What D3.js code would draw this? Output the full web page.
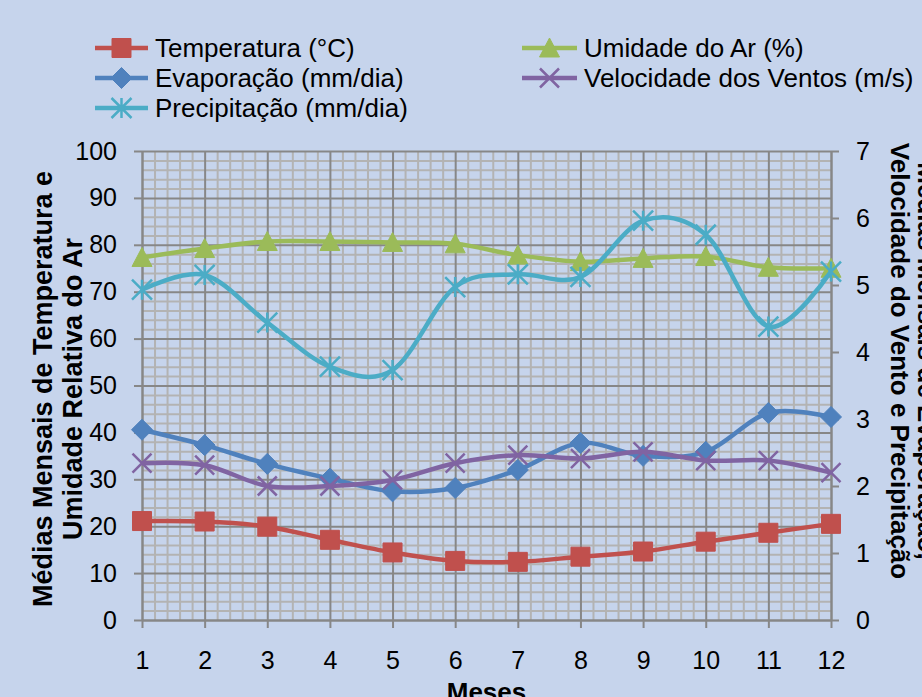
<!DOCTYPE html>
<html>
<head>
<meta charset="utf-8">
<script src="https://cdn.jsdelivr.net/npm/d3@7"></script>
<style>
  html, body { margin: 0; padding: 0; background: #c6d4ec; }
  svg { display: block; font-family: "Liberation Sans", Arial, Helvetica, sans-serif; }
</style>
</head>
<body>
<svg id="chart" width="922" height="697"></svg>
<script>
// Monthly climate normals
const meses = [1, 2, 3, 4, 5, 6, 7, 8, 9, 10, 11, 12];
const temperatura = [21.1, 21.0, 19.9, 17.1, 14.4, 12.6, 12.4, 13.5, 14.6, 16.7, 18.6, 20.5];   // °C (left axis)
const umidade     = [77.3, 79.2, 80.7, 80.7, 80.5, 80.2, 77.8, 76.4, 77.1, 77.5, 75.2, 75.0];   // % (left axis)
const evaporacao  = [2.84, 2.61, 2.33, 2.11, 1.92, 1.97, 2.24, 2.64, 2.45, 2.51, 3.09, 3.03];   // mm/dia (right axis)
const vento       = [2.34, 2.31, 2.00, 2.00, 2.09, 2.34, 2.46, 2.41, 2.51, 2.38, 2.38, 2.20];   // m/s (right axis)
const precipitacao= [4.93, 5.15, 4.44, 3.78, 3.73, 4.97, 5.16, 5.12, 5.96, 5.75, 4.38, 5.20];   // mm/dia (right axis)

const ticksEsquerda = [0, 10, 20, 30, 40, 50, 60, 70, 80, 90, 100];
const ticksDireita  = [0, 1, 2, 3, 4, 5, 6, 7];
const rotulosMeses  = ["1", "2", "3", "4", "5", "6", "7", "8", "9", "10", "11", "12"];

const nomesSeries = ["Temperatura (°C)", "Umidade do Ar (%)", "Evaporação (mm/dia)",
                     "Velocidade dos Ventos (m/s)", "Precipitação (mm/dia)"];

const svg = d3.select("#chart");
const W = 922, H = 697;
const plotLeft = 142, plotRight = 831, plotTop = 151, plotBottom = 620;

svg.append("rect").attr("width", W).attr("height", H).attr("fill", "#c6d4ec");

const x  = d3.scaleLinear().domain([1, 12]).range([plotLeft, plotRight]);
const yL = d3.scaleLinear().domain([0, 100]).range([plotBottom, plotTop]);
const yR = d3.scaleLinear().domain([0, 7]).range([plotBottom, plotTop]);

// ---- grid: minor then major ----
const grid = svg.append("g");
const minorX = d3.range(1, 12.0001, 0.2).filter(v => Math.abs(v - Math.round(v)) > 0.01);
const minorY = d3.range(0, 100.001, 2).filter(v => v % 10 !== 0);

grid.append("g")
  .attr("transform", `translate(0,${plotBottom})`)
  .call(d3.axisBottom(x).tickValues(minorX).tickSize(-(plotBottom - plotTop)).tickFormat(""))
  .call(g => g.select(".domain").remove())
  .call(g => g.selectAll("line").attr("stroke", "#b3b3b3").attr("stroke-width", 2));
grid.append("g")
  .attr("transform", `translate(${plotLeft},0)`)
  .call(d3.axisLeft(yL).tickValues(minorY).tickSize(-(plotRight - plotLeft)).tickFormat(""))
  .call(g => g.select(".domain").remove())
  .call(g => g.selectAll("line").attr("stroke", "#b3b3b3").attr("stroke-width", 2));
grid.append("g")
  .attr("transform", `translate(0,${plotBottom})`)
  .call(d3.axisBottom(x).tickValues(meses).tickSize(-(plotBottom - plotTop)).tickFormat(""))
  .call(g => g.select(".domain").remove())
  .call(g => g.selectAll("line").attr("stroke", "#878787").attr("stroke-width", 2));
grid.append("g")
  .attr("transform", `translate(${plotLeft},0)`)
  .call(d3.axisLeft(yL).tickValues(ticksEsquerda).tickSize(-(plotRight - plotLeft)).tickFormat(""))
  .call(g => g.select(".domain").remove())
  .call(g => g.selectAll("line").attr("stroke", "#878787").attr("stroke-width", 2));

// ---- axes ----
function styleAxis(g) {
  g.select(".domain").attr("stroke", "#878787").attr("stroke-width", 2);
  g.selectAll(".tick line").attr("stroke", "#878787").attr("stroke-width", 2);
  g.selectAll(".tick text").attr("fill", "#000").attr("font-size", 25)
    .attr("font-family", '"Liberation Sans", Arial, sans-serif');
}
svg.append("g")
  .attr("transform", `translate(${plotLeft},0)`)
  .call(d3.axisLeft(yL).tickValues(ticksEsquerda).tickFormat(d3.format("d"))
        .tickSize(8).tickSizeOuter(0).tickPadding(17))
  .call(styleAxis);
svg.append("g")
  .attr("transform", `translate(${plotRight},0)`)
  .call(d3.axisRight(yR).tickValues(ticksDireita).tickFormat(d3.format("d"))
        .tickSize(8).tickSizeOuter(0).tickPadding(17))
  .call(styleAxis);
svg.append("g")
  .attr("transform", `translate(0,${plotBottom})`)
  .call(d3.axisBottom(x).tickValues(meses).tickFormat((d, i) => rotulosMeses[i])
        .tickSize(8).tickSizeOuter(0).tickPadding(23))
  .call(styleAxis);

// ---- axis titles ----
const titulos = svg.append("g").attr("font-weight", "bold").attr("fill", "#000");
const tituloEsq = titulos.append("text")
  .attr("transform", `translate(52,389) rotate(-90)`)
  .attr("text-anchor", "middle").attr("font-size", 27);
tituloEsq.append("tspan").attr("x", 0).attr("y", 0).text("Médias Mensais de Temperatura e");
tituloEsq.append("tspan").attr("x", 0).attr("y", 30).text("Umidade Relativa do Ar");

const tituloDir = titulos.append("text")
  .attr("transform", `translate(891,361) rotate(90)`)
  .attr("text-anchor", "middle").attr("font-size", 26);
tituloDir.append("tspan").attr("x", 0).attr("y", -27).text("Médias Mensais de Evaporação,");
tituloDir.append("tspan").attr("x", 0).attr("y", 0).text("Velocidade do Vento e Precipitação");

titulos.append("text")
  .attr("x", (plotLeft + plotRight) / 2).attr("y", 701)
  .attr("text-anchor", "middle").attr("font-size", 26)
  .text("Meses");

// ---- markers ----
function markerPath(tipo, s) {
  const h = s / 2;
  switch (tipo) {
    case "square":   return `M${-h},${-h}H${h}V${h}H${-h}Z`;
    case "diamond":  return `M0,${-h}L${h},0L0,${h}L${-h},0Z`;
    case "triangle": return `M0,${-h}L${h},${h * 0.9}L${-h},${h * 0.9}Z`;
    case "x":        return `M${-h},${-h}L${h},${h}M${h},${-h}L${-h},${h}`;
    case "star":     return `M${-h},${-h}L${h},${h}M${h},${-h}L${-h},${h}M0,${-h}V${h}`;
  }
}

const series = [
  { nome: nomesSeries[0], valores: temperatura,  escala: yL, cor: "#c0504d", marcador: "square",   tam: 19 },
  { nome: nomesSeries[1], valores: umidade,      escala: yL, cor: "#9bbb59", marcador: "triangle", tam: 20 },
  { nome: nomesSeries[2], valores: evaporacao,   escala: yR, cor: "#4f81bd", marcador: "diamond",  tam: 21 },
  { nome: nomesSeries[3], valores: vento,        escala: yR, cor: "#8064a2", marcador: "x",        tam: 19 },
  { nome: nomesSeries[4], valores: precipitacao, escala: yR, cor: "#4bacc6", marcador: "star",     tam: 20 }
];

function drawMarker(g, s, cx, cy) {
  const aberto = s.marcador === "x" || s.marcador === "star";
  g.append("path")
    .attr("d", markerPath(s.marcador, s.tam))
    .attr("transform", `translate(${cx},${cy})`)
    .attr("fill", aberto ? "none" : s.cor)
    .attr("stroke", s.cor)
    .attr("stroke-width", aberto ? 2.5 : 1);
}

const plot = svg.append("g");
series.forEach(s => {
  const linha = d3.line()
    .x((d, i) => x(meses[i]))
    .y(d => s.escala(d))
    .curve(d3.curveCardinal.tension(0));
  const g = plot.append("g");
  g.append("path")
    .attr("d", linha(s.valores))
    .attr("fill", "none")
    .attr("stroke", s.cor)
    .attr("stroke-width", 4.5)
    .attr("stroke-linejoin", "round");
  s.valores.forEach((v, i) => drawMarker(g, s, x(meses[i]), s.escala(v)));
});

// ---- legend (two columns, row-major) ----
const legenda = svg.append("g");
const colX = [95, 522];
const linhaLen = [53, 55];
const rowY = [48, 78, 108];
series.forEach((s, i) => {
  const c = i % 2, r = Math.floor(i / 2);
  const x0 = colX[c], y0 = rowY[r], len = linhaLen[c];
  const g = legenda.append("g");
  g.append("line")
    .attr("x1", x0).attr("x2", x0 + len).attr("y1", y0).attr("y2", y0)
    .attr("stroke", s.cor).attr("stroke-width", 4.5);
  drawMarker(g, s, x0 + len / 2, y0);
  g.append("text")
    .attr("x", x0 + len + 7).attr("y", y0 + 9)
    .attr("font-size", 26).attr("fill", "#000")
    .text(s.nome);
});
</script>
</body>
</html>
